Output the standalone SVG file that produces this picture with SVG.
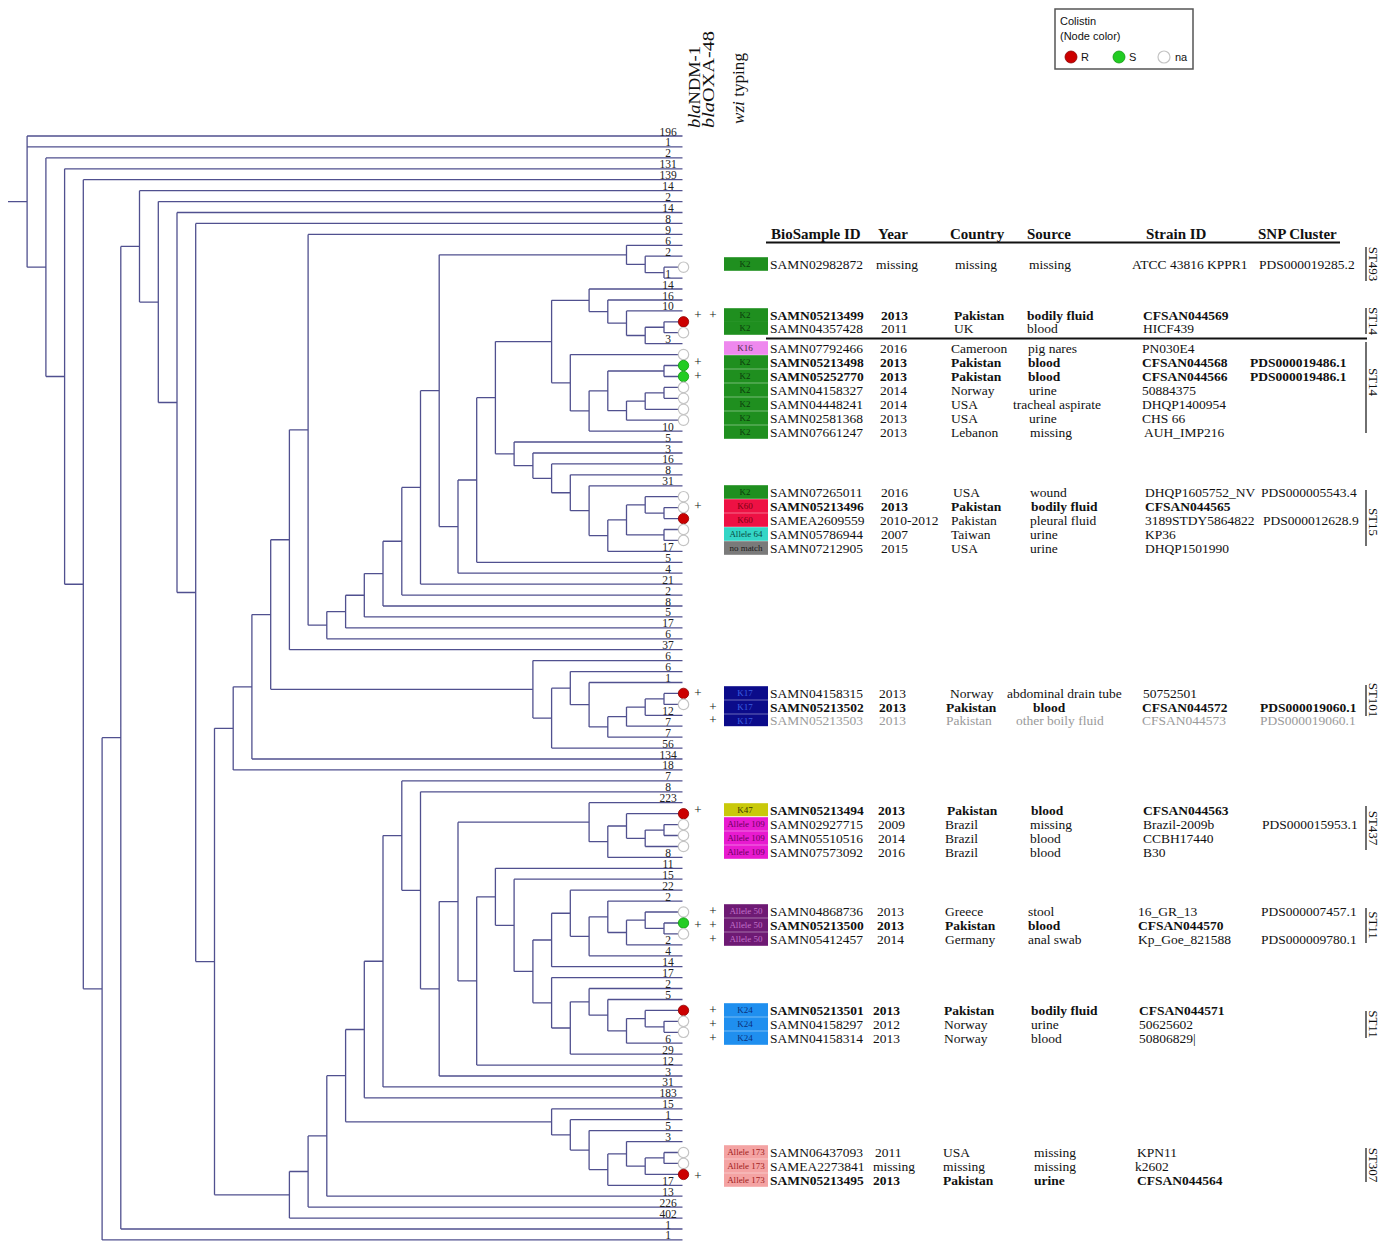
<svg xmlns="http://www.w3.org/2000/svg" width="1388" height="1241" viewBox="0 0 1388 1241">
<style>
.t{fill:none;stroke:#50508f;stroke-width:1.3}
.n{font-family:"Liberation Serif",serif;font-size:11.5px;fill:#222;text-anchor:middle}
.r{font-family:"Liberation Serif",serif;font-size:13.5px;fill:#111}
.b{font-weight:bold}
.gr{fill:#9a9a9a}
.k{font-family:"Liberation Serif",serif;font-size:9px;text-anchor:middle}
.p{font-family:"Liberation Serif",serif;font-size:13px;fill:#111;text-anchor:middle}
.cR{fill:#cc0000;stroke:#8b0000;stroke-width:0.8}
.cG{fill:#22cc22;stroke:#119911;stroke-width:0.8}
.cN{fill:#fff;stroke:#c4c4c4;stroke-width:1.2}
.st{font-family:"Liberation Serif",serif;font-size:13px;fill:#111;text-anchor:middle}
.sl{stroke:#222;stroke-width:1.3}
.hd{font-family:"Liberation Serif",serif;font-size:15px;font-weight:bold;fill:#111}
.vh{font-family:"Liberation Serif",serif;font-size:16px;fill:#111}
.lg{font-family:"Liberation Sans",Arial,sans-serif;font-size:11px;fill:#111}
.K2{fill:#1f8f1f}.K2t{fill:#0b3b0b}
.K16{fill:#ee88ee}.K16t{fill:#4a2a4a}
.K60{fill:#ee1144}.K60t{fill:#7a0010}
.A64{fill:#33d6c6}.A64t{fill:#0b4a44}
.NM{fill:#7a7a7a}.NMt{fill:#1a1a1a}
.K17{fill:#0b0b8a}.K17t{fill:#3a5fe0}
.K47{fill:#c9c90a}.K47t{fill:#3a3a00}
.A109{fill:#e81ad0}.A109t{fill:#6a0060}
.A50{fill:#6e1a74}.A50t{fill:#c070c8}
.K24{fill:#1f8fef}.K24t{fill:#0b2f7a}
.A173{fill:#f4a3a3}.A173t{fill:#a02020}
</style>

<g id="legend">
<rect x="1055" y="9" width="138" height="60" fill="#fff" stroke="#555" stroke-width="1.5"/>
<text class="lg" x="1060" y="25">Colistin</text>
<text class="lg" x="1060" y="40">(Node color)</text>
<circle class="cR" cx="1071" cy="57" r="6"/><text class="lg" x="1081" y="61">R</text>
<circle class="cG" cx="1119" cy="57" r="6"/><text class="lg" x="1129" y="61">S</text>
<circle class="cN" cx="1164" cy="57" r="6"/><text class="lg" x="1175" y="61">na</text>
</g>

<g id="column-headers">
<text class="vh" transform="translate(700,128) rotate(-90)" textLength="82" lengthAdjust="spacingAndGlyphs"><tspan font-style="italic">bla</tspan>NDM-1</text>
<text class="vh" transform="translate(714,128) rotate(-90)" textLength="97" lengthAdjust="spacingAndGlyphs"><tspan font-style="italic">bla</tspan>OXA-48</text>
<text class="vh" transform="translate(744,124) rotate(-90)" textLength="71" lengthAdjust="spacingAndGlyphs"><tspan font-style="italic">wzi</tspan> typing</text>
<text class="hd" y="239"><tspan x="771">BioSample ID</tspan><tspan x="878">Year</tspan><tspan x="950">Country</tspan><tspan x="1027">Source</tspan><tspan x="1146">Strain ID</tspan><tspan x="1258">SNP Cluster</tspan></text>
<line x1="766" y1="242.5" x2="1340" y2="242.5" stroke="#111" stroke-width="2.2"/>
<line x1="766" y1="338.5" x2="1367" y2="338.5" stroke="#111" stroke-width="2"/>
</g>

<g id="connectors">
<path class="t" d="M8 201.6H27.1M27.1 136V267.2M27.1 136H682.5M27.1 146.9H682.5M27.1 267.2H45.9
M45.9 157.9V376.5M45.9 157.9H682.5M45.9 376.5H64.6
M64.6 168.8V584.25M64.6 168.8H682.5M64.6 584.25H83.3
M83.3 179.7V988.8M83.3 179.7H682.5M83.3 988.8H102.1
M102.1 737.7V1239.9M102.1 737.7H120.8M102.1 1239.9H682.5
M120.8 246.4V1229M120.8 246.4H139.5M120.8 1229H682.5
M139.5 190.7V302.05M139.5 190.7H682.5M139.5 302.05H158.3
M158.3 201.6V402.5M158.3 201.6H682.5M158.3 402.5H177
M177 212.5V592.5M177 212.5H682.5M177 592.5H195.7
M195.7 223.4V961.6M195.7 223.4H682.5M195.7 961.6H214.5
M214.5 728.35V1194.8M214.5 728.35H233.2M214.5 1194.8H289.4
M233.2 686.8V769.9M233.2 686.8H251.9M233.2 769.9H682.5
M251.9 614.55V759M251.9 614.55H270.7M251.9 759H682.5
M270.7 539.75V689.35M270.7 539.75H289.4M270.7 689.35H532.9
M289.4 429.8V649.7M289.4 429.8H308.1M289.4 649.7H682.5
M308.1 234.4V625.2M308.1 234.4H682.5M308.1 625.2H326.8
M326.8 611.6V638.8M326.8 611.6H345.6M326.8 638.8H682.5
M345.6 595.25V627.9M345.6 595.25H364.3M345.6 627.9H682.5
M364.3 573.6V616.9M364.3 573.6H383M364.3 616.9H682.5
M383 541.25V606M383 541.25H401.8M383 606H682.5
M401.8 487.4V595.1M401.8 487.4H420.5M401.8 595.1H682.5
M420.5 390.7V584.1M420.5 390.7H439.2M420.5 584.1H682.5
M439.2 254.85V526.6M439.2 254.85H626.5M439.2 526.6H458
M458 480V573.2M458 480H476.7M458 573.2H682.5
M476.7 397.7V562.3M476.7 397.7H495.4M476.7 562.3H682.5
M495.4 341.55V453.8M495.4 341.55H551.6M495.4 453.8H514.1"/>
<path class="t" d="M626.5 245.3V264.4M626.5 245.3H682.5M626.5 264.4H645.2
M645.2 256.2V272.65M645.2 256.2H682.5M645.2 272.65H664
M664 267.2V278.1M664 267.2H682.5M664 278.1H682.5
M551.6 300.3V382.8M551.6 300.3H589.1M551.6 382.8H570.3
M589.1 289V311.6M589.1 289H682.5M589.1 311.6H607.8
M607.8 300V323.2M607.8 300H682.5M607.8 323.2H626.5
M626.5 310.9V335.5M626.5 310.9H682.5M626.5 335.5H645.2
M645.2 327.25V343.7M645.2 327.25H664M645.2 343.7H682.5
M664 321.8V332.7M664 321.8H682.5M664 332.7H682.5
M570.3 354.6V410.95M570.3 354.6H682.5M570.3 410.95H589.1
M589.1 390.8V431.1M589.1 390.8H607.8M589.1 431.1H682.5
M607.8 371V410.65M607.8 371H664M607.8 410.65H626.5
M664 365.5V376.5M664 365.5H682.5M664 376.5H682.5
M626.5 401.1V420.2M626.5 401.1H645.2M626.5 420.2H682.5
M645.2 392.85V409.3M645.2 392.85H664M645.2 409.3H682.5
M664 387.4V398.3M664 387.4H682.5M664 398.3H682.5"/>
<path class="t" d="M514.1 442V465.65M514.1 442H682.5M514.1 465.65H532.9
M532.9 453V478.3M532.9 453H682.5M532.9 478.3H551.6
M551.6 463.9V492.75M551.6 463.9H682.5M551.6 492.75H570.3
M570.3 474.8V510.7M570.3 474.8H682.5M570.3 510.7H589.1
M589.1 485.8V535.6M589.1 485.8H682.5M589.1 535.6H607.8
M607.8 519.9V551.3M607.8 519.9H626.5M607.8 551.3H682.5
M626.5 504.9V534.95M626.5 504.9H645.2M626.5 534.95H664
M645.2 496.7V513.1M645.2 496.7H682.5M645.2 513.1H664
M664 507.6V518.6M664 507.6H682.5M664 518.6H682.5
M664 529.5V540.4M664 529.5H682.5M664 540.4H682.5"/>
<path class="t" d="M532.9 660.6V718.1M532.9 660.6H682.5M532.9 718.1H551.6
M551.6 688.15V748.1M551.6 688.15H570.3M551.6 748.1H682.5
M570.3 671.6V704.7M570.3 671.6H682.5M570.3 704.7H589.1
M589.1 682.5V726.9M589.1 682.5H682.5M589.1 726.9H607.8
M607.8 716.65V737.2M607.8 716.65H626.5M607.8 737.2H682.5
M626.5 707.1V726.2M626.5 707.1H645.2M626.5 726.2H682.5
M645.2 698.9V715.3M645.2 698.9H664M645.2 715.3H682.5
M664 693.4V704.4M664 693.4H682.5M664 704.4H682.5"/>
<path class="t" d="M289.4 1171.5V1218.1M289.4 1171.5H308.1M289.4 1218.1H682.5
M308.1 1135.95V1207.1M308.1 1135.95H326.8M308.1 1207.1H682.5
M326.8 1075.7V1196.2M326.8 1075.7H345.6M326.8 1196.2H682.5
M345.6 1029.5V1121.85M345.6 1029.5H364.3M345.6 1121.85H551.6
M364.3 961.25V1097.8M364.3 961.25H383M364.3 1097.8H682.5
M383 835.6V1086.9M383 835.6H401.8M383 1086.9H682.5
M401.8 780.9V890.3M401.8 780.9H682.5M401.8 890.3H420.5
M420.5 791.8V988.8M420.5 791.8H682.5M420.5 988.8H439.2
M439.2 901.6V1076M439.2 901.6H458M439.2 1076H682.5
M458 822.2V980.95M458 822.2H589.1M458 980.95H476.7
M476.7 896.8V1065.1M476.7 896.8H495.4M476.7 1065.1H682.5
M495.4 868.3V925.3M495.4 868.3H682.5M495.4 925.3H514.1
M514.1 879.2V971.4M514.1 879.2H682.5M514.1 971.4H532.9
M532.9 940V1002.8M532.9 940H551.6M532.9 1002.8H551.6"/>
<path class="t" d="M589.1 802.7V841.7M589.1 802.7H682.5M589.1 841.7H607.8
M607.8 826V857.4M607.8 826H626.5M607.8 857.4H682.5
M626.5 813.7V838.3M626.5 813.7H682.5M626.5 838.3H645.2
M645.2 830.05V846.5M645.2 830.05H664M645.2 846.5H682.5
M664 824.6V835.5M664 824.6H682.5M664 835.5H682.5"/>
<path class="t" d="M551.6 913.25V966.7M551.6 913.25H570.3M551.6 966.7H682.5
M570.3 890.2V936.3M570.3 890.2H682.5M570.3 936.3H589.1
M589.1 916.8V955.8M589.1 916.8H607.8M589.1 955.8H682.5
M607.8 901.1V932.5M607.8 901.1H682.5M607.8 932.5H626.5
M626.5 920.2V944.8M626.5 920.2H645.2M626.5 944.8H682.5
M645.2 912V928.45M645.2 912H682.5M645.2 928.45H664
M664 923V933.9M664 923H682.5M664 933.9H682.5
M551.6 977.6V1028M551.6 977.6H682.5M551.6 1028H570.3
M570.3 1001.85V1054.1M570.3 1001.85H589.1M570.3 1054.1H682.5
M589.1 988.5V1015.2M589.1 988.5H682.5M589.1 1015.2H607.8
M607.8 999.5V1030.9M607.8 999.5H682.5M607.8 1030.9H626.5
M626.5 1018.6V1043.2M626.5 1018.6H645.2M626.5 1043.2H682.5
M645.2 1010.4V1026.8M645.2 1010.4H682.5M645.2 1026.8H664
M664 1021.3V1032.3M664 1021.3H682.5M664 1032.3H682.5"/>
<path class="t" d="M551.6 1108.8V1134.9M551.6 1108.8H682.5M551.6 1134.9H570.3
M570.3 1119.7V1150.1M570.3 1119.7H682.5M570.3 1150.1H589.1
M589.1 1130.6V1169.6M589.1 1130.6H682.5M589.1 1169.6H607.8
M607.8 1153.9V1185.3M607.8 1153.9H626.5M607.8 1185.3H682.5
M626.5 1141.6V1166.2M626.5 1141.6H682.5M626.5 1166.2H645.2
M645.2 1157.95V1174.4M645.2 1157.95H664M645.2 1174.4H682.5
M664 1152.5V1163.4M664 1152.5H682.5M664 1163.4H682.5"/>
</g>

<g id="tip-labels" transform="translate(0,-1.5)">
<text class="n" x="668" y="137">196</text><text class="n" x="668" y="147.9">1</text><text class="n" x="668" y="158.9">2</text><text class="n" x="668" y="169.8">131</text><text class="n" x="668" y="180.7">139</text><text class="n" x="668" y="191.7">14</text><text class="n" x="668" y="202.6">2</text><text class="n" x="668" y="213.5">14</text><text class="n" x="668" y="224.4">8</text><text class="n" x="668" y="235.4">9</text><text class="n" x="668" y="246.3">6</text><text class="n" x="668" y="257.2">2</text><text class="n" x="668" y="279.1">1</text><text class="n" x="668" y="290">14</text><text class="n" x="668" y="301">16</text><text class="n" x="668" y="311.9">10</text><text class="n" x="668" y="344.7">3</text>
<text class="n" x="668" y="432.1">10</text><text class="n" x="668" y="443">5</text><text class="n" x="668" y="454">3</text><text class="n" x="668" y="464.9">16</text><text class="n" x="668" y="475.8">8</text><text class="n" x="668" y="486.8">31</text><text class="n" x="668" y="552.3">17</text><text class="n" x="668" y="563.3">5</text><text class="n" x="668" y="574.2">4</text><text class="n" x="668" y="585.1">21</text><text class="n" x="668" y="596.1">2</text><text class="n" x="668" y="607">8</text><text class="n" x="668" y="617.9">5</text><text class="n" x="668" y="628.9">17</text><text class="n" x="668" y="639.8">6</text><text class="n" x="668" y="650.7">37</text><text class="n" x="668" y="661.6">6</text><text class="n" x="668" y="672.6">6</text><text class="n" x="668" y="683.5">1</text>
<text class="n" x="668" y="716.3">12</text><text class="n" x="668" y="727.2">7</text><text class="n" x="668" y="738.2">7</text><text class="n" x="668" y="749.1">56</text><text class="n" x="668" y="760">134</text><text class="n" x="668" y="770.9">18</text><text class="n" x="668" y="781.9">7</text><text class="n" x="668" y="792.8">8</text><text class="n" x="668" y="803.7">223</text><text class="n" x="668" y="858.4">8</text><text class="n" x="668" y="869.3">11</text><text class="n" x="668" y="880.2">15</text><text class="n" x="668" y="891.2">22</text><text class="n" x="668" y="902.1">2</text><text class="n" x="668" y="945.8">2</text><text class="n" x="668" y="956.8">4</text><text class="n" x="668" y="967.7">14</text><text class="n" x="668" y="978.6">17</text><text class="n" x="668" y="989.5">2</text><text class="n" x="668" y="1000.5">5</text>
<text class="n" x="668" y="1044.2">6</text><text class="n" x="668" y="1055.1">29</text><text class="n" x="668" y="1066.1">12</text><text class="n" x="668" y="1077">3</text><text class="n" x="668" y="1087.9">31</text><text class="n" x="668" y="1098.8">183</text><text class="n" x="668" y="1109.8">15</text><text class="n" x="668" y="1120.7">1</text><text class="n" x="668" y="1131.6">5</text><text class="n" x="668" y="1142.6">3</text><text class="n" x="668" y="1186.3">17</text><text class="n" x="668" y="1197.2">13</text><text class="n" x="668" y="1208.1">226</text><text class="n" x="668" y="1219.1">402</text><text class="n" x="668" y="1230">1</text><text class="n" x="668" y="1240.9">1</text>
</g>

<g id="tip-nodes">
<circle class="cN" cx="683.5" cy="267.2" r="5.2"/>
<circle class="cR" cx="683.5" cy="321.8" r="5.2"/><circle class="cN" cx="683.5" cy="332.7" r="5.2"/>
<circle class="cN" cx="683.5" cy="354.6" r="5.2"/><circle class="cG" cx="683.5" cy="365.5" r="5.2"/><circle class="cG" cx="683.5" cy="376.5" r="5.2"/><circle class="cN" cx="683.5" cy="387.4" r="5.2"/><circle class="cN" cx="683.5" cy="398.3" r="5.2"/><circle class="cN" cx="683.5" cy="409.3" r="5.2"/><circle class="cN" cx="683.5" cy="420.2" r="5.2"/>
<circle class="cN" cx="683.5" cy="496.7" r="5.2"/><circle class="cN" cx="683.5" cy="507.6" r="5.2"/><circle class="cR" cx="683.5" cy="518.6" r="5.2"/><circle class="cN" cx="683.5" cy="529.5" r="5.2"/><circle class="cN" cx="683.5" cy="540.4" r="5.2"/>
<circle class="cR" cx="683.5" cy="693.4" r="5.2"/><circle class="cN" cx="683.5" cy="704.4" r="5.2"/>
<circle class="cR" cx="683.5" cy="813.7" r="5.2"/><circle class="cN" cx="683.5" cy="824.6" r="5.2"/><circle class="cN" cx="683.5" cy="835.5" r="5.2"/><circle class="cN" cx="683.5" cy="846.5" r="5.2"/>
<circle class="cN" cx="683.5" cy="912" r="5.2"/><circle class="cG" cx="683.5" cy="923" r="5.2"/><circle class="cN" cx="683.5" cy="933.9" r="5.2"/>
<circle class="cR" cx="683.5" cy="1010.4" r="5.2"/><circle class="cN" cx="683.5" cy="1021.3" r="5.2"/><circle class="cN" cx="683.5" cy="1032.3" r="5.2"/>
<circle class="cN" cx="683.5" cy="1152.5" r="5.2"/><circle class="cN" cx="683.5" cy="1163.4" r="5.2"/><circle class="cR" cx="683.5" cy="1174.4" r="5.2"/>
</g>

<g id="gene-marks">
<text class="p" x="698" y="319">+</text><text class="p" x="713" y="319">+</text>
<text class="p" x="698" y="366">+</text><text class="p" x="698" y="380">+</text>
<text class="p" x="698" y="510">+</text>
<text class="p" x="698" y="697">+</text><text class="p" x="713" y="711">+</text><text class="p" x="713" y="724">+</text>
<text class="p" x="698" y="814">+</text>
<text class="p" x="713" y="915">+</text><text class="p" x="698" y="929">+</text><text class="p" x="713" y="929">+</text><text class="p" x="713" y="943">+</text>
<text class="p" x="713" y="1014">+</text><text class="p" x="713" y="1028">+</text><text class="p" x="713" y="1042">+</text>
<text class="p" x="698" y="1180">+</text>
</g>

<g id="row-SAMN02982872"><rect class="K2" x="724" y="257.2" width="44" height="13.6"/><text class="k K2t" x="745" y="267">K2</text><text class="r" y="268.5"><tspan x="770">SAMN02982872</tspan><tspan x="876">missing</tspan><tspan x="955">missing</tspan><tspan x="1029">missing</tspan><tspan x="1132">ATCC 43816 KPPR1</tspan><tspan x="1259">PDS000019285.2</tspan></text></g>
<g id="row-SAMN05213499"><rect class="K2" x="724" y="308.2" width="44" height="13.6"/><text class="k K2t" x="745" y="318">K2</text><text class="r b" y="319.5"><tspan x="770">SAMN05213499</tspan><tspan x="881">2013</tspan><tspan x="954">Pakistan</tspan><tspan x="1027">bodily fluid</tspan><tspan x="1143">CFSAN044569</tspan></text></g>
<g id="row-SAMN04357428"><rect class="K2" x="724" y="321.2" width="44" height="13.6"/><text class="k K2t" x="745" y="331">K2</text><text class="r" y="332.5"><tspan x="770">SAMN04357428</tspan><tspan x="881">2011</tspan><tspan x="954">UK</tspan><tspan x="1027">blood</tspan><tspan x="1143">HICF439</tspan></text></g>
<g id="row-SAMN07792466"><rect class="K16" x="724" y="341.2" width="44" height="13.6"/><text class="k K16t" x="745" y="351">K16</text><text class="r" y="352.5"><tspan x="770">SAMN07792466</tspan><tspan x="880">2016</tspan><tspan x="951">Cameroon</tspan><tspan x="1028">pig nares</tspan><tspan x="1142">PN030E4</tspan></text></g>
<g id="row-SAMN05213498"><rect class="K2" x="724" y="355.2" width="44" height="13.6"/><text class="k K2t" x="745" y="365">K2</text><text class="r b" y="366.5"><tspan x="770">SAMN05213498</tspan><tspan x="880">2013</tspan><tspan x="951">Pakistan</tspan><tspan x="1028">blood</tspan><tspan x="1142">CFSAN044568</tspan><tspan x="1250">PDS000019486.1</tspan></text></g>
<g id="row-SAMN05252770"><rect class="K2" x="724" y="369.2" width="44" height="13.6"/><text class="k K2t" x="745" y="379">K2</text><text class="r b" y="380.5"><tspan x="770">SAMN05252770</tspan><tspan x="880">2013</tspan><tspan x="951">Pakistan</tspan><tspan x="1028">blood</tspan><tspan x="1142">CFSAN044566</tspan><tspan x="1250">PDS000019486.1</tspan></text></g>
<g id="row-SAMN04158327"><rect class="K2" x="724" y="383.2" width="44" height="13.6"/><text class="k K2t" x="745" y="393">K2</text><text class="r" y="394.5"><tspan x="770">SAMN04158327</tspan><tspan x="880">2014</tspan><tspan x="951">Norway</tspan><tspan x="1029">urine</tspan><tspan x="1142">50884375</tspan></text></g>
<g id="row-SAMN04448241"><rect class="K2" x="724" y="397.2" width="44" height="13.6"/><text class="k K2t" x="745" y="407">K2</text><text class="r" y="408.5"><tspan x="770">SAMN04448241</tspan><tspan x="880">2014</tspan><tspan x="951">USA</tspan><tspan x="1013">tracheal aspirate</tspan><tspan x="1142">DHQP1400954</tspan></text></g>
<g id="row-SAMN02581368"><rect class="K2" x="724" y="411.2" width="44" height="13.6"/><text class="k K2t" x="745" y="421">K2</text><text class="r" y="422.5"><tspan x="770">SAMN02581368</tspan><tspan x="880">2013</tspan><tspan x="951">USA</tspan><tspan x="1029">urine</tspan><tspan x="1142">CHS 66</tspan></text></g>
<g id="row-SAMN07661247"><rect class="K2" x="724" y="425.2" width="44" height="13.6"/><text class="k K2t" x="745" y="435">K2</text><text class="r" y="436.5"><tspan x="770">SAMN07661247</tspan><tspan x="880">2013</tspan><tspan x="951">Lebanon</tspan><tspan x="1030">missing</tspan><tspan x="1144">AUH_IMP216</tspan></text></g>

<g id="row-SAMN07265011"><rect class="K2" x="724" y="485.2" width="44" height="13.6"/><text class="k K2t" x="745" y="495">K2</text><text class="r" y="496.5"><tspan x="770">SAMN07265011</tspan><tspan x="881">2016</tspan><tspan x="953">USA</tspan><tspan x="1030">wound</tspan><tspan x="1145">DHQP1605752_NV</tspan><tspan x="1261">PDS000005543.4</tspan></text></g>
<g id="row-SAMN05213496"><rect class="K60" x="724" y="499.2" width="44" height="13.6"/><text class="k K60t" x="745" y="509">K60</text><text class="r b" y="510.5"><tspan x="770">SAMN05213496</tspan><tspan x="881">2013</tspan><tspan x="951">Pakistan</tspan><tspan x="1031">bodily fluid</tspan><tspan x="1145">CFSAN044565</tspan></text></g>
<g id="row-SAMEA2609559"><rect class="K60" x="724" y="513.2" width="44" height="13.6"/><text class="k K60t" x="745" y="523">K60</text><text class="r" y="524.5"><tspan x="770">SAMEA2609559</tspan><tspan x="880">2010-2012</tspan><tspan x="951">Pakistan</tspan><tspan x="1030">pleural fluid</tspan><tspan x="1145">3189STDY5864822</tspan><tspan x="1263">PDS000012628.9</tspan></text></g>
<g id="row-SAMN05786944"><rect class="A64" x="724" y="527.2" width="44" height="13.6"/><text class="k A64t" x="746" y="537">Allele 64</text><text class="r" y="538.5"><tspan x="770">SAMN05786944</tspan><tspan x="881">2007</tspan><tspan x="951">Taiwan</tspan><tspan x="1030">urine</tspan><tspan x="1145">KP36</tspan></text></g>
<g id="row-SAMN07212905"><rect class="NM" x="724" y="541.2" width="44" height="13.6"/><text class="k NMt" x="746" y="551">no match</text><text class="r" y="552.5"><tspan x="770">SAMN07212905</tspan><tspan x="881">2015</tspan><tspan x="951">USA</tspan><tspan x="1030">urine</tspan><tspan x="1145">DHQP1501990</tspan></text></g>

<g id="row-SAMN04158315"><rect class="K17" x="724" y="686.2" width="44" height="13.6"/><text class="k K17t" x="745" y="696">K17</text><text class="r" y="697.5"><tspan x="770">SAMN04158315</tspan><tspan x="879">2013</tspan><tspan x="950">Norway</tspan><tspan x="1007">abdominal drain tube</tspan><tspan x="1143">50752501</tspan></text></g>
<g id="row-SAMN05213502"><rect class="K17" x="724" y="700.2" width="44" height="13.6"/><text class="k K17t" x="745" y="710">K17</text><text class="r b" y="711.5"><tspan x="770">SAMN05213502</tspan><tspan x="879">2013</tspan><tspan x="946">Pakistan</tspan><tspan x="1033">blood</tspan><tspan x="1142">CFSAN044572</tspan><tspan x="1260">PDS000019060.1</tspan></text></g>
<g id="row-SAMN05213503"><rect class="K17" x="724" y="714.2" width="44" height="12"/><text class="k K17t" x="745" y="723.5">K17</text><text class="r gr" y="724.5"><tspan x="770">SAMN05213503</tspan><tspan x="879">2013</tspan><tspan x="946">Pakistan</tspan><tspan x="1016">other boily fluid</tspan><tspan x="1142">CFSAN044573</tspan><tspan x="1260">PDS000019060.1</tspan></text></g>

<g id="row-SAMN05213494"><rect class="K47" x="724" y="803.2" width="44" height="13"/><text class="k K47t" x="745" y="813">K47</text><text class="r b" y="814.5"><tspan x="770">SAMN05213494</tspan><tspan x="878">2013</tspan><tspan x="947">Pakistan</tspan><tspan x="1031">blood</tspan><tspan x="1143">CFSAN044563</tspan></text></g>
<g id="row-SAMN02927715"><rect class="A109" x="724" y="817.2" width="44" height="13.6"/><text class="k A109t" x="746" y="827">Allele 109</text><text class="r" y="828.5"><tspan x="770">SAMN02927715</tspan><tspan x="878">2009</tspan><tspan x="945">Brazil</tspan><tspan x="1030">missing</tspan><tspan x="1143">Brazil-2009b</tspan><tspan x="1262">PDS000015953.1</tspan></text></g>
<g id="row-SAMN05510516"><rect class="A109" x="724" y="831.2" width="44" height="13.6"/><text class="k A109t" x="746" y="841">Allele 109</text><text class="r" y="842.5"><tspan x="770">SAMN05510516</tspan><tspan x="878">2014</tspan><tspan x="945">Brazil</tspan><tspan x="1030">blood</tspan><tspan x="1143">CCBH17440</tspan></text></g>
<g id="row-SAMN07573092"><rect class="A109" x="724" y="845.2" width="44" height="13.6"/><text class="k A109t" x="746" y="855">Allele 109</text><text class="r" y="856.5"><tspan x="770">SAMN07573092</tspan><tspan x="878">2016</tspan><tspan x="945">Brazil</tspan><tspan x="1030">blood</tspan><tspan x="1143">B30</tspan></text></g>

<g id="row-SAMN04868736"><rect class="A50" x="724" y="904.2" width="44" height="13.6"/><text class="k A50t" x="746" y="914">Allele 50</text><text class="r" y="915.5"><tspan x="770">SAMN04868736</tspan><tspan x="877">2013</tspan><tspan x="945">Greece</tspan><tspan x="1028">stool</tspan><tspan x="1138">16_GR_13</tspan><tspan x="1261">PDS000007457.1</tspan></text></g>
<g id="row-SAMN05213500"><rect class="A50" x="724" y="918.2" width="44" height="13.6"/><text class="k A50t" x="746" y="928">Allele 50</text><text class="r b" y="929.5"><tspan x="770">SAMN05213500</tspan><tspan x="877">2013</tspan><tspan x="945">Pakistan</tspan><tspan x="1028">blood</tspan><tspan x="1138">CFSAN044570</tspan></text></g>
<g id="row-SAMN05412457"><rect class="A50" x="724" y="932.2" width="44" height="13.6"/><text class="k A50t" x="746" y="942">Allele 50</text><text class="r" y="943.5"><tspan x="770">SAMN05412457</tspan><tspan x="877">2014</tspan><tspan x="945">Germany</tspan><tspan x="1028">anal swab</tspan><tspan x="1138">Kp_Goe_821588</tspan><tspan x="1261">PDS000009780.1</tspan></text></g>

<g id="row-SAMN05213501"><rect class="K24" x="724" y="1003.2" width="44" height="13.6"/><text class="k K24t" x="745" y="1013">K24</text><text class="r b" y="1014.5"><tspan x="770">SAMN05213501</tspan><tspan x="873">2013</tspan><tspan x="944">Pakistan</tspan><tspan x="1031">bodily fluid</tspan><tspan x="1139">CFSAN044571</tspan></text></g>
<g id="row-SAMN04158297"><rect class="K24" x="724" y="1017.2" width="44" height="13.6"/><text class="k K24t" x="745" y="1027">K24</text><text class="r" y="1028.5"><tspan x="770">SAMN04158297</tspan><tspan x="873">2012</tspan><tspan x="944">Norway</tspan><tspan x="1031">urine</tspan><tspan x="1139">50625602</tspan></text></g>
<g id="row-SAMN04158314"><rect class="K24" x="724" y="1031.2" width="44" height="13.6"/><text class="k K24t" x="745" y="1041">K24</text><text class="r" y="1042.5"><tspan x="770">SAMN04158314</tspan><tspan x="873">2013</tspan><tspan x="944">Norway</tspan><tspan x="1031">blood</tspan><tspan x="1139">50806829|</tspan></text></g>

<g id="row-SAMN06437093"><rect class="A173" x="724" y="1145.2" width="44" height="13.6"/><text class="k A173t" x="746" y="1155">Allele 173</text><text class="r" y="1156.5"><tspan x="770">SAMN06437093</tspan><tspan x="875">2011</tspan><tspan x="943">USA</tspan><tspan x="1034">missing</tspan><tspan x="1137">KPN11</tspan></text></g>
<g id="row-SAMEA2273841"><rect class="A173" x="724" y="1159.2" width="44" height="13.6"/><text class="k A173t" x="746" y="1169">Allele 173</text><text class="r" y="1170.5"><tspan x="770">SAMEA2273841</tspan><tspan x="873">missing</tspan><tspan x="943">missing</tspan><tspan x="1034">missing</tspan><tspan x="1135">k2602</tspan></text></g>
<g id="row-SAMN05213495"><rect class="A173" x="724" y="1173.2" width="44" height="13.6"/><text class="k A173t" x="746" y="1183">Allele 173</text><text class="r b" y="1184.5"><tspan x="770">SAMN05213495</tspan><tspan x="873">2013</tspan><tspan x="943">Pakistan</tspan><tspan x="1034">urine</tspan><tspan x="1137">CFSAN044564</tspan></text></g>

<g id="st-labels">
<line class="sl" x1="1366" y1="247" x2="1366" y2="281"/><text class="st" transform="translate(1369,264) rotate(90)">ST493</text>
<line class="sl" x1="1366" y1="308" x2="1366" y2="334"/><text class="st" transform="translate(1369,321) rotate(90)">ST14</text>
<line class="sl" x1="1366" y1="342" x2="1366" y2="433"/><text class="st" transform="translate(1369,382) rotate(90)">ST14</text>
<line class="sl" x1="1366" y1="490" x2="1366" y2="546"/><text class="st" transform="translate(1369,522) rotate(90)">ST15</text>
<line class="sl" x1="1366" y1="685" x2="1366" y2="716"/><text class="st" transform="translate(1369,700) rotate(90)">ST101</text>
<line class="sl" x1="1366" y1="806" x2="1366" y2="850"/><text class="st" transform="translate(1369,828) rotate(90)">ST437</text>
<line class="sl" x1="1366" y1="908" x2="1366" y2="943"/><text class="st" transform="translate(1369,925) rotate(90)">ST11</text>
<line class="sl" x1="1366" y1="1011" x2="1366" y2="1038"/><text class="st" transform="translate(1369,1024) rotate(90)">ST11</text>
<line class="sl" x1="1366" y1="1148" x2="1366" y2="1182"/><text class="st" transform="translate(1369,1165) rotate(90)">ST307</text>
</g>
</svg>
